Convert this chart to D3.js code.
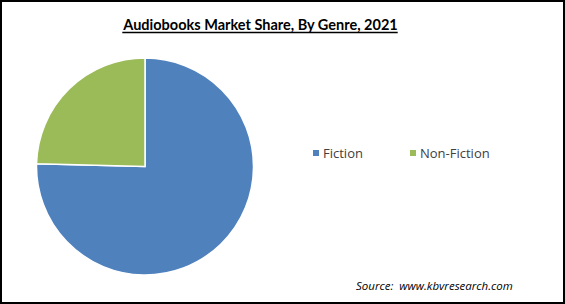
<!DOCTYPE html>
<html>
<head>
<meta charset="utf-8">
<script src="https://cdn.jsdelivr.net/npm/d3@7"></script>
<style>
  body { margin: 0; background: #fff; }
  svg { display: block; }
</style>
</head>
<body>
<svg id="canvas" width="565" height="304"></svg>
<script>
var genres = ['Fiction', 'Non-Fiction'];
var shares = [75.4, 24.6];
var colors = ['#4F81BD', '#9BBB59'];
var title = 'Audiobooks Market Share, By Genre, 2021';
var source = 'Source:  www.kbvresearch.com';

var svg = d3.select('#canvas');
var W = 565, H = 304;

// frame
svg.append('rect').attr('x', 1).attr('y', 1).attr('width', W - 2).attr('height', H - 2)
  .style('fill', '#fff').style('stroke', '#000').style('stroke-width', 2);

// title
var t = svg.append('text').attr('x', 260.5).attr('y', 29.5).attr('text-anchor', 'middle')
  .style('font-family', 'Lato, sans-serif').style('font-weight', 'bold').style('font-size', '14.5px')
  .style('fill', '#000').text(title);
var bb = t.node().getBBox();
svg.append('line').attr('x1', bb.x).attr('x2', bb.x + bb.width).attr('y1', 32.5).attr('y2', 32.5)
  .style('stroke', '#000').style('stroke-width', 1.3);

// pie
var color = d3.scaleOrdinal().domain(genres).range(colors);
var pie = d3.pie().sort(null).value(function(d, i){ return shares[i]; });
var arc = d3.arc().innerRadius(0).outerRadius(108.5);
var g = svg.append('g').attr('transform', 'translate(145,166.5)');
g.selectAll('path').data(pie(genres)).enter().append('path')
  .attr('d', arc)
  .style('fill', function(d){ return color(d.data); })
  .style('stroke', '#fff').style('stroke-width', 1.5);

// legend
var legendX = d3.scaleOrdinal().domain(genres).range([313, 410]);
var lg = svg.append('g').selectAll('g').data(genres).enter().append('g')
  .attr('transform', function(d){ return 'translate(' + legendX(d) + ',150)'; });
lg.append('rect').attr('width', 6).attr('height', 6).style('fill', function(d){ return color(d); });
lg.append('text').attr('x', 10).attr('y', 8)
  .style('font-family', '"Open Sans", sans-serif').style('font-size', '13px').style('fill', '#404040')
  .text(function(d){ return d; });

// source
svg.append('text').attr('x', 356).attr('y', 290)
  .style('font-family', '"Open Sans", sans-serif').style('font-style', 'italic').style('font-size', '11.5px')
  .style('white-space', 'pre')
  .style('fill', '#000').text(source);
</script>
</body>
</html>
